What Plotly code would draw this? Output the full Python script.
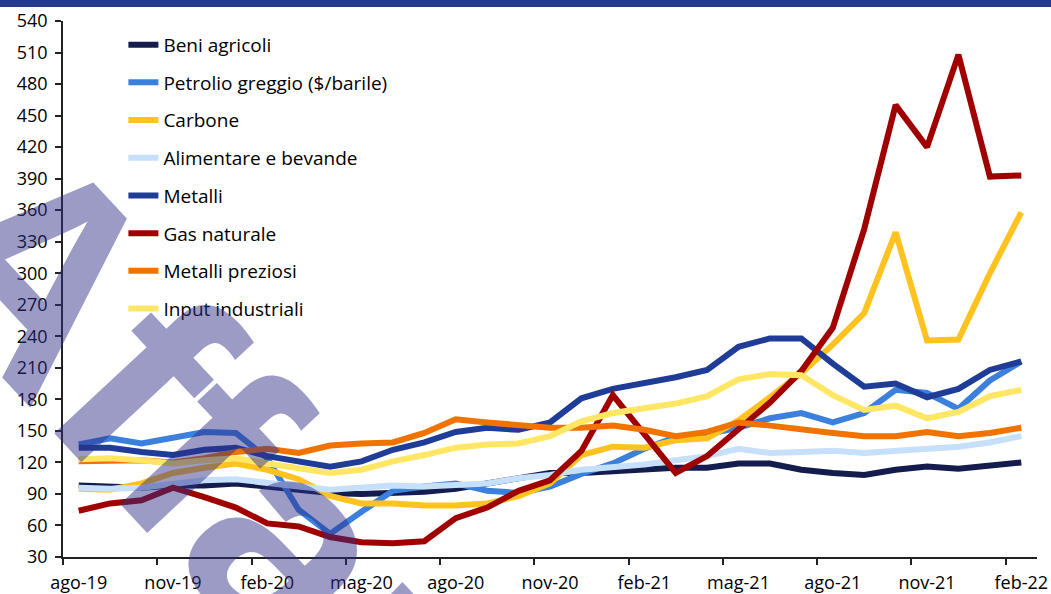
import plotly.graph_objects as go

# mesi da ago-19 a feb-22
mesi = ["ago-19", "set-19", "ott-19", "nov-19", "dic-19", "gen-20", "feb-20", "mar-20",
        "apr-20", "mag-20", "giu-20", "lug-20", "ago-20", "set-20", "ott-20", "nov-20",
        "dic-20", "gen-21", "feb-21", "mar-21", "apr-21", "mag-21", "giu-21", "lug-21",
        "ago-21", "set-21", "ott-21", "nov-21", "dic-21", "gen-22", "feb-22"]

beni_agricoli = [98, 97, 96, 98, 98, 100, 97, 94, 91, 90, 91, 92, 95, 100, 106, 110,
                 110, 112, 113, 115, 115, 119, 119, 113, 110, 108, 113, 116, 114, 117, 120]
petrolio = [137, 143, 138, 143, 149, 148, 124, 75, 52, 73, 93, 97, 100, 93, 91, 97,
            109, 119, 133, 144, 147, 153, 162, 167, 158, 167, 189, 186, 171, 198, 216]
carbone = [95, 94, 100, 110, 115, 119, 113, 104, 88, 81, 81, 79, 79, 81, 88, 100,
           127, 135, 134, 141, 143, 160, 182, 205, 232, 262, 339, 236, 237, 300, 358]
alimentare = [96, 95, 96, 99, 103, 104, 100, 97, 94, 96, 98, 97, 99, 100, 105, 108,
              113, 115, 118, 122, 126, 133, 129, 130, 131, 129, 131, 133, 135, 139, 145]
metalli = [134, 134, 130, 127, 132, 134, 126, 121, 116, 121, 132, 139, 149, 153, 151, 158,
           181, 190, 195, 201, 208, 230, 238, 238, 214, 192, 195, 182, 190, 208, 216]
gas_naturale = [74, 81, 84, 96, 87, 77, 62, 59, 49, 44, 43, 45, 67, 77, 93, 103,
                131, 184, 147, 110, 126, 152, 177, 207, 248, 342, 460, 420, 508, 392, 393]
metalli_preziosi = [121, 122, 122, 120, 124, 130, 133, 129, 136, 138, 139, 148, 161, 158, 156, 153,
                    153, 155, 151, 145, 149, 158, 155, 151, 148, 145, 145, 149, 145, 148, 153]
input_industriali = [123, 124, 122, 119, 122, 124, 119, 115, 110, 113, 121, 127, 134, 137, 138, 145,
                     159, 167, 171, 176, 183, 199, 204, 203, 184, 170, 174, 162, 168, 183, 189]

serie = [
    ("Beni agricoli", beni_agricoli, "#141b4d"),
    ("Petrolio greggio ($/barile)", petrolio, "#3a80dc"),
    ("Carbone", carbone, "#ffc21f"),
    ("Alimentare e bevande", alimentare, "#c6e0fb"),
    ("Metalli", metalli, "#1f3c96"),
    ("Gas naturale", gas_naturale, "#a00000"),
    ("Metalli preziosi", metalli_preziosi, "#f07300"),
    ("Input industriali", input_industriali, "#ffe765"),
]

font = "Open Sans, sans-serif"
x = list(range(len(mesi)))

fig = go.Figure()
for nome, valori, colore in serie:
    fig.add_trace(go.Scatter(
        x=x, y=valori, name=nome, mode="lines", legendgroup=nome,
        line=dict(color=colore, width=6),
    ))

fig.update_layout(
    width=1051, height=594,
    margin=dict(l=63, r=14, t=21, b=37),
    plot_bgcolor="white", paper_bgcolor="white",
    font=dict(family=font, size=18, color="#000000"),
    showlegend=True,
    legend=dict(x=0.062, y=0.991, xanchor="left", yanchor="top",
                bgcolor="rgba(0,0,0,0)", tracegroupgap=10, maxheight=560,
                font=dict(family=font, size=19)),
    xaxis=dict(
        range=[-0.5, 30.5], tickvals=x[::3], ticktext=mesi[::3],
        ticks="", showline=True, linecolor="#222222", linewidth=1.5,
        showgrid=False, zeroline=False, ticklabelstandoff=9, automargin=False,
        minor=dict(tick0=-0.5, dtick=3, ticks="outside", ticklen=6,
                   tickcolor="#222222", tickwidth=1.5, showgrid=False),
    ),
    yaxis=dict(
        range=[30, 540], dtick=30, ticks="outside", ticklen=6,
        tickcolor="#222222", tickwidth=1.5, showline=True,
        linecolor="#222222", linewidth=1.5, showgrid=False, zeroline=False,
        ticklabelstandoff=4, automargin=False,
    ),
)

# striscia blu in alto
fig.add_shape(type="rect", xref="paper", yref="paper",
              x0=-0.1, x1=1.1, y0=1 + 14 / 536, y1=1.1,
              fillcolor="#243a8f", line=dict(width=0), layer="above")

# filigrana
fig.add_annotation(text="<b>Affaritaliani.it</b>", xref="paper", yref="paper",
                   x=0.550, y=-0.582, xanchor="center", yanchor="middle",
                   showarrow=False, textangle=47,
                   font=dict(family="Liberation Sans", size=290,
                             color="rgba(45,45,135,0.48)"))

fig.write_html("out.html", config={"displayModeBar": False},
               post_script="document.body.style.margin='0';document.body.style.overflow='hidden';")
